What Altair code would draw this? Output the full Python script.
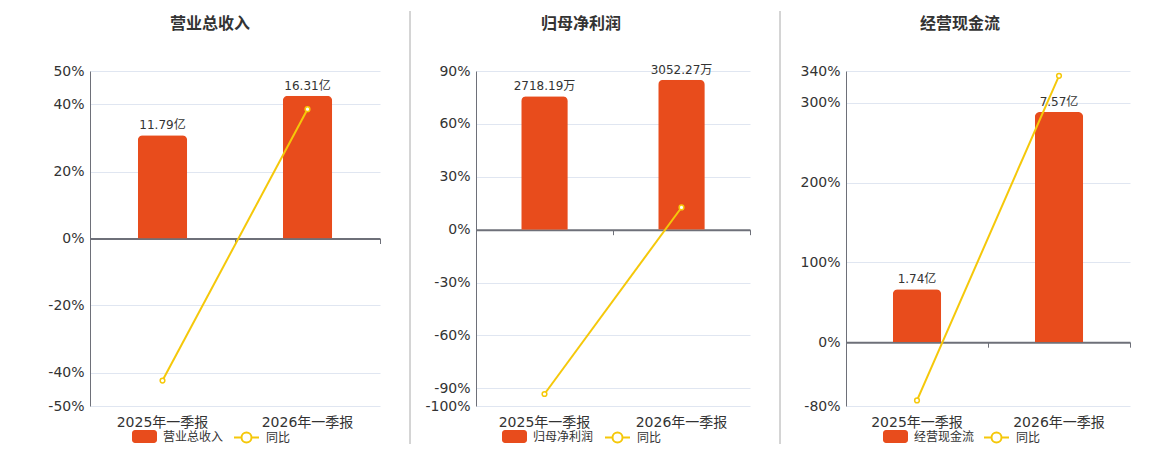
import altair as alt
import pandas as pd

# ---------------- data ----------------
categories = ["2025年一季报", "2026年一季报"]
titles = ["营业总收入", "归母净利润", "经营现金流"]
bar_values = [[11.79, 16.31], [2718.19, 3052.27], [1.74, 7.57]]
bar_labels = [["11.79亿", "16.31亿"], ["2718.19万", "3052.27万"], ["1.74亿", "7.57亿"]]
yoy_values = [[-42.4, 38.6], [-93.2, 12.6], [-73.0, 334.0]]
yoy_name = "同比"
pct_ticks = [[-50, -40, -20, 0, 20, 40, 50],
             [-100, -90, -60, -30, 0, 30, 60, 90],
             [-80, 0, 100, 200, 300, 340]]
pct_domains = [[-50, 50], [-100, 90], [-80, 340]]
bar_domains = [[-19.13, 19.13], [-3589, 3230], [-2.10, 8.92]]

# ---------------- style ----------------
BAR = "#e84c1c"
LINE = "#f5c80a"
AXIS = "#6e7079"
GRID = "#e0e6f1"
TXT = "#333333"
FONT = "DejaVu Sans, Noto Sans CJK SC"
H = 335
widths = [290, 274, 284]
title_x = [120, 105, 114]
leg_bar_x = [42, 26, 37]
leg_line_x = [143, 128, 137]
LEG_Y = 353

RECT = ("M-0.76,-0.52 H0.76 A0.24,0.24 0 0 1 1,-0.28 V0.28 A0.24,0.24 0 0 1 0.76,0.52 "
        "H-0.76 A0.24,0.24 0 0 1 -1,0.28 V-0.28 A0.24,0.24 0 0 1 -0.76,-0.52 Z")
LINESYM = ("M-1,0 H-0.4 A0.4,0.4 0 1 1 0.4,0 H1 M0.4,0 A0.4,0.4 0 1 1 -0.4,0")


def panel(i):
    w = widths[i]
    df = pd.DataFrame({
        "cat": categories,
        "val": bar_values[i],
        "label": bar_labels[i],
        "yoy": yoy_values[i],
        "series": [titles[i]] * len(categories),
        "s2": [yoy_name] * len(categories),
    })
    base = alt.Chart(df)
    xscale = alt.Scale(paddingInner=0, paddingOuter=0)
    dmin, dmax = pct_domains[i]
    zero_px = H * dmax / (dmax - dmin)
    zero_offset = -(H - zero_px)

    label_axis = alt.Axis(title=None, domain=False, ticks=False, grid=False,
                          labelFontSize=14, labelColor=TXT, labelPadding=9,
                          labelAngle=0)
    zero_axis = alt.Axis(title=None, labels=False, grid=False, domain=True,
                         domainColor=AXIS, domainWidth=2, ticks=True,
                         tickColor=AXIS, tickSize=5, tickBand="extent",
                         offset=zero_offset, orient="bottom")
    pct_axis = alt.Axis(orient="left", title=None, values=pct_ticks[i],
                        labelExpr="datum.value + '%'", grid=True, gridColor=GRID,
                        domain=True, domainColor=AXIS, ticks=False,
                        labelFontSize=14, labelColor=TXT, labelPadding=6)

    bar_y = alt.Scale(domain=bar_domains[i], nice=False, zero=False)
    pct_y = alt.Scale(domain=pct_domains[i], nice=False, zero=False)

    bars = base.mark_bar(width={"band": 0.34}, cornerRadiusTopLeft=5,
                         cornerRadiusTopRight=5).encode(
        x=alt.X("cat:N", sort=categories, scale=xscale, axis=label_axis),
        y=alt.Y("val:Q", scale=bar_y, axis=None),
        fill=alt.Fill("series:N", scale=alt.Scale(domain=[titles[i]], range=[BAR]),
                      legend=alt.Legend(orient="none", legendX=leg_bar_x[i], legendY=LEG_Y,
                                        title=None, symbolType=RECT, symbolSize=625,
                                        symbolStrokeWidth=0, labelFontSize=12,
                                        labelColor=TXT, labelOffset=6, padding=0,
                                        direction="horizontal")),
    )
    text = base.mark_text(fontSize=12, color=TXT, baseline="alphabetic", dy=-6).encode(
        x=alt.X("cat:N", sort=categories, scale=xscale, axis=None),
        y=alt.Y("val:Q", scale=bar_y, axis=None),
        text="label:N",
    )
    line = base.mark_line(strokeWidth=2).encode(
        x=alt.X("cat:N", sort=categories, scale=xscale, axis=zero_axis),
        y=alt.Y("yoy:Q", scale=pct_y, axis=pct_axis),
        stroke=alt.Stroke("s2:N", scale=alt.Scale(domain=[yoy_name], range=[LINE]),
                          legend=alt.Legend(orient="none", legendX=leg_line_x[i], legendY=LEG_Y,
                                            title=None, symbolType=LINESYM, symbolSize=625,
                                            symbolStrokeWidth=2, labelFontSize=12,
                                            labelColor=TXT, labelOffset=6, padding=0,
                                            direction="horizontal",
                                            symbolFillColor="white")),
    )
    points = base.mark_point(shape="circle", filled=True, fill="white", stroke=LINE,
                             strokeWidth=1.5, size=22, opacity=1).encode(
        x=alt.X("cat:N", sort=categories, scale=xscale, axis=None),
        y=alt.Y("yoy:Q", scale=pct_y, axis=None),
    )
    tdf = pd.DataFrame({"t": [titles[i]]})
    title = alt.Chart(tdf).mark_text(fontSize=16, fontWeight="bold", color=TXT,
                                     baseline="middle", align="center").encode(
        text="t:N", x=alt.value(title_x[i]), y=alt.value(-47.5))
    layers = [bars, text, line, points, title]
    one = pd.DataFrame({"a": [0]})
    if i == 0:
        anchor = alt.Chart(one).mark_rule(color="white", strokeWidth=1).encode(
            x=alt.value(-81.5), y=alt.value(-62), y2=alt.value(-50))
        layers.append(anchor)
    else:
        sep = alt.Chart(one).mark_rule(color="#aaaaaa", strokeWidth=1).encode(
            x=alt.value(-66), y=alt.value(-60), y2=alt.value(373))
        layers.append(sep)
    return alt.layer(*layers).resolve_scale(y="independent").resolve_axis(
        x="independent", y="independent").properties(width=w, height=H)


chart = alt.hconcat(panel(0), panel(1), panel(2), spacing=96, bounds="flush").resolve_scale(
    fill="independent", stroke="independent").resolve_legend(
    fill="independent", stroke="independent").properties(padding=0).configure(
    font=FONT).configure_view(stroke=None)

chart.save("out.html", embed_options={"renderer": "svg", "actions": False})
